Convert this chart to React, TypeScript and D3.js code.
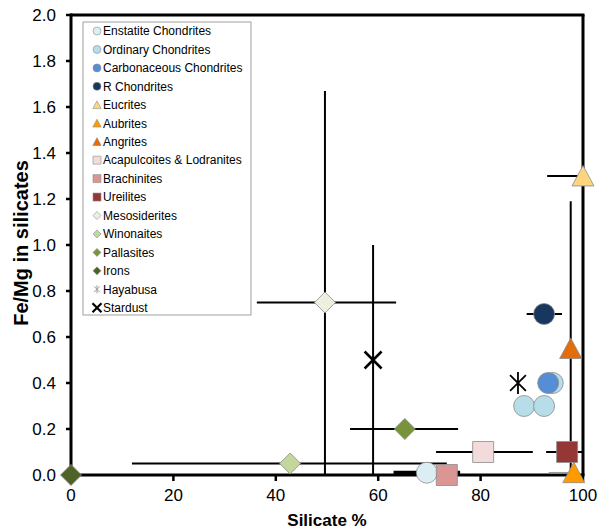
import React from "react";
import * as d3 from "d3";

// chart data (silicate %, Fe/Mg)
const enstatite = [[69.5, 0.01]];
const ordinary = [[94.1, 0.4], [88.5, 0.3], [92.4, 0.3]];
const carbonaceous = [[93.2, 0.4]];
const rChondrites = [[92.4, 0.7]];
const eucrites = [[100, 1.3]];
const aubrites = [[98.2, 0.01]];
const angrites = [[97.6, 0.55]];
const acapulcoites = [[80.5, 0.1]];
const brachinites = [[73.4, 0.0]];
const ureilites = [[96.9, 0.1]];
const mesosiderites = [[49.6, 0.75]];
const winonaites = [[42.8, 0.05]];
const pallasites = [[65.2, 0.2]];
const irons = [[0, 0]];
const hayabusa = [[87.3, 0.4]];
const stardust = [[59, 0.5]];

// error bars: [x, y, lo, hi]
const xErrors = [
  [42.8, 0.05, 11.9, 73.4],
  [49.6, 0.75, 36.3, 63.5],
  [65.2, 0.2, 54.5, 75.6],
  [80.5, 0.1, 71.3, 90.2],
  [96.9, 0.1, 92.8, 100],
  [100, 1.3, 93, 100],
  [92.4, 0.7, 89, 95.9],
];
const xErrorsThick = [[69.5, 0.01, 63, 76]];
const xErrorsGray = [[98.2, 0.01, 93.3, 98.4]];
const yErrors = [
  [49.6, 0.75, 0, 1.67],
  [59, 0.5, 0, 1.0],
  [97.6, 0.55, 0, 1.19],
];

const xTicks = [0, 20, 40, 60, 80, 100];
const yTicks = [0, 0.2, 0.4, 0.6, 0.8, 1.0, 1.2, 1.4, 1.6, 1.8, 2.0];

const FONT = "'Liberation Sans', Arial, sans-serif";

// custom marker shapes, size = half width
const shapes: Record<string, any> = {
  circle: { draw(c: any, r: number) { c.moveTo(r, 0); c.arc(0, 0, r, 0, 2 * Math.PI); } },
  square: { draw(c: any, r: number) { c.rect(-r, -r, 2 * r, 2 * r); } },
  diamond: {
    draw(c: any, r: number) {
      c.moveTo(0, -r); c.lineTo(r, 0); c.lineTo(0, r); c.lineTo(-r, 0); c.closePath();
    },
  },
  triangle: {
    draw(c: any, r: number) {
      c.moveTo(0, -r); c.lineTo(r * 1.05, r * 0.95); c.lineTo(-r * 1.05, r * 0.95); c.closePath();
    },
  },
  star: {
    draw(c: any, r: number) {
      const d = r * 0.72;
      c.moveTo(0, -r); c.lineTo(0, r);
      c.moveTo(-d, -d); c.lineTo(d, d);
      c.moveTo(-d, d); c.lineTo(d, -d);
    },
  },
  cross: {
    draw(c: any, r: number) {
      c.moveTo(-r, -r); c.lineTo(r, r);
      c.moveTo(-r, r); c.lineTo(r, -r);
    },
  },
};

const series = [
  { name: "Enstatite Chondrites", pts: enstatite, shape: "circle", fill: "#dbeef4" },
  { name: "Ordinary Chondrites", pts: ordinary, shape: "circle", fill: "#b7dde8" },
  { name: "Carbonaceous Chondrites", pts: carbonaceous, shape: "circle", fill: "#558ed5" },
  { name: "R Chondrites", pts: rChondrites, shape: "circle", fill: "#17375e" },
  { name: "Eucrites", pts: eucrites, shape: "triangle", fill: "#fcd57e" },
  { name: "Aubrites", pts: aubrites, shape: "triangle", fill: "#ff9a00" },
  { name: "Angrites", pts: angrites, shape: "triangle", fill: "#e46c0a" },
  { name: "Acapulcoites & Lodranites", pts: acapulcoites, shape: "square", fill: "#f2dcdb" },
  { name: "Brachinites", pts: brachinites, shape: "square", fill: "#d99694" },
  { name: "Ureilites", pts: ureilites, shape: "square", fill: "#953735" },
  { name: "Mesosiderites", pts: mesosiderites, shape: "diamond", fill: "#ebf1de" },
  { name: "Winonaites", pts: winonaites, shape: "diamond", fill: "#c3d69b" },
  { name: "Pallasites", pts: pallasites, shape: "diamond", fill: "#77933c" },
  { name: "Irons", pts: irons, shape: "diamond", fill: "#4f6228" },
  { name: "Hayabusa", pts: hayabusa, shape: "star", fill: "none" },
  { name: "Stardust", pts: stardust, shape: "cross", fill: "none" },
];

export default function App() {
  const W = 598, H = 531;
  const x = d3.scaleLinear().domain([0, 100]).range([71, 583]);
  const y = d3.scaleLinear().domain([0, 2]).range([475, 15]);
  const sym = (shape: string, r: number) => d3.symbol().type(shapes[shape]).size(r)() as string;

  const markerStyle = (s: any, legend: boolean) => {
    if (s.shape === "star") return { fill: "none", stroke: legend ? "#999" : "#000", strokeWidth: legend ? 1 : 1.8 };
    if (s.shape === "cross") return { fill: "none", stroke: "#000", strokeWidth: legend ? 2.2 : 2.6 };
    return { fill: s.fill, stroke: "#8c8c8c", strokeWidth: legend ? 0.6 : 0.8 };
  };

  const legX = 83, legY = 22, legW = 168, legH = 293, step = 18.45;

  return (
    <svg width={W} height={H} style={{ position: "absolute", left: 0, top: 0, background: "#fff" }} fontFamily={FONT}>
      {/* frame */}
      <line x1={x(0)} x2={x(100) + 1.5} y1={y(2)} y2={y(2)} stroke="#000" strokeWidth={3} />
      <line x1={x(100)} x2={x(100)} y1={y(2)} y2={y(0)} stroke="#000" strokeWidth={3} />
      <line x1={x(0)} x2={x(0)} y1={y(2) - 1.5} y2={y(0)} stroke="#000" strokeWidth={3} />
      <line x1={x(0) - 1.5} x2={x(100) + 1.5} y1={y(0)} y2={y(0)} stroke="#000" strokeWidth={3} />

      {/* y axis ticks */}
      {yTicks.map((t) => (
        <g key={"y" + t}>
          <line x1={x(0) - 5} x2={x(0)} y1={y(t)} y2={y(t)} stroke="#000" strokeWidth={2.5} />
          <text x={56} y={y(t)} dy="0.35em" textAnchor="end" fontSize={17} fill="#000">
            {d3.format(".1f")(t)}
          </text>
        </g>
      ))}
      {/* x axis ticks */}
      {xTicks.map((t) => (
        <g key={"x" + t}>
          <line x1={x(t)} x2={x(t)} y1={y(0)} y2={y(0) + 6} stroke="#000" strokeWidth={2.5} />
          <text x={x(t)} y={501} textAnchor="middle" fontSize={17} fill="#000">{t}</text>
        </g>
      ))}

      <text x={327} y={526} textAnchor="middle" fontSize={17} fontWeight="bold">Silicate %</text>
      <text transform={`translate(28,243) rotate(-90)`} textAnchor="middle" fontSize={20} fontWeight="bold">
        Fe/Mg in silicates
      </text>

      {/* error bars */}
      {xErrors.map((e, i) => (
        <line key={"xe" + i} x1={x(e[2])} x2={x(e[3])} y1={y(e[1])} y2={y(e[1])} stroke="#000" strokeWidth={2} />
      ))}
      {xErrorsThick.map((e, i) => (
        <line key={"xt" + i} x1={x(e[2])} x2={x(e[3])} y1={y(e[1])} y2={y(e[1])} stroke="#000" strokeWidth={4} />
      ))}
      {xErrorsGray.map((e, i) => (
        <line key={"xg" + i} x1={x(e[2])} x2={x(e[3])} y1={y(e[1])} y2={y(e[1])} stroke="#999" strokeWidth={1.5} />
      ))}
      {yErrors.map((e, i) => (
        <line key={"ye" + i} x1={x(e[0])} x2={x(e[0])} y1={y(e[2])} y2={y(e[3])} stroke="#000" strokeWidth={2} />
      ))}

      {/* markers */}
      {series.map((s) =>
        s.pts.map((p, j) => (
          <path
            key={s.name + j}
            d={sym(s.shape, s.shape === "cross" ? 8.5 : s.shape === "star" ? 11 : 10.5)}
            transform={`translate(${x(p[0])},${y(p[1])})`}
            {...markerStyle(s, false)}
          />
        ))
      )}

      {/* legend */}
      <rect x={legX} y={legY} width={legW} height={legH} fill="#fff" stroke="#a0a0a0" strokeWidth={1} />
      {series.map((s, i) => {
        const cy = legY + 9 + i * step;
        return (
          <g key={"lg" + s.name}>
            <path
              d={sym(s.shape, s.shape === "cross" ? 4.5 : 4)}
              transform={`translate(${legX + 14},${cy})`}
              {...markerStyle(s, true)}
            />
            <text x={legX + 20} y={cy} dy="0.36em" fontSize={12} fill="#000">{s.name}</text>
          </g>
        );
      })}
    </svg>
  );
}
